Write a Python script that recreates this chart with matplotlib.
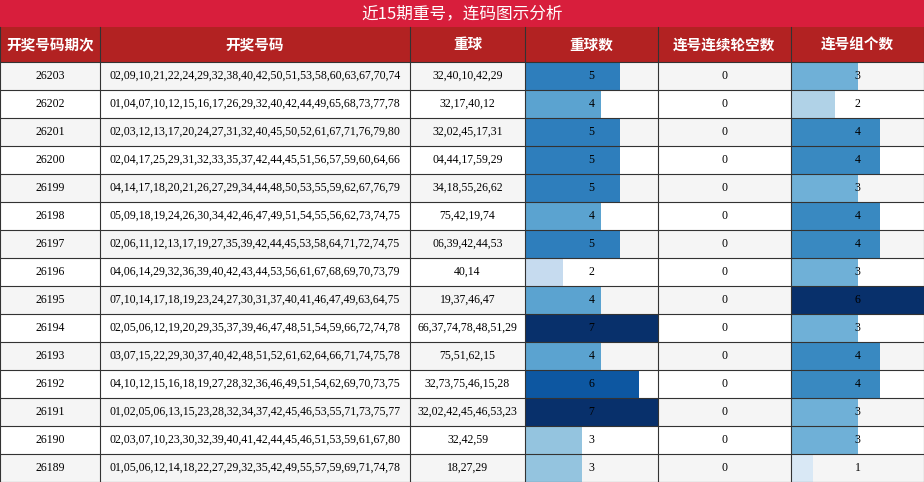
import matplotlib
matplotlib.use("Agg")
import matplotlib.pyplot as plt
from matplotlib.patches import Rectangle
from matplotlib import cm

title = "近15期重号，连码图示分析"
headers = ["开奖号码期次", "开奖号码", "重球", "重球数", "连号连续轮空数", "连号组个数"]
periods = ["26203","26202","26201","26200","26199","26198","26197","26196","26195","26194","26193","26192","26191","26190","26189"]
draws = [
"02,09,10,21,22,24,29,32,38,40,42,50,51,53,58,60,63,67,70,74",
"01,04,07,10,12,15,16,17,26,29,32,40,42,44,49,65,68,73,77,78",
"02,03,12,13,17,20,24,27,31,32,40,45,50,52,61,67,71,76,79,80",
"02,04,17,25,29,31,32,33,35,37,42,44,45,51,56,57,59,60,64,66",
"04,14,17,18,20,21,26,27,29,34,44,48,50,53,55,59,62,67,76,79",
"05,09,18,19,24,26,30,34,42,46,47,49,51,54,55,56,62,73,74,75",
"02,06,11,12,13,17,19,27,35,39,42,44,45,53,58,64,71,72,74,75",
"04,06,14,29,32,36,39,40,42,43,44,53,56,61,67,68,69,70,73,79",
"07,10,14,17,18,19,23,24,27,30,31,37,40,41,46,47,49,63,64,75",
"02,05,06,12,19,20,29,35,37,39,46,47,48,51,54,59,66,72,74,78",
"03,07,15,22,29,30,37,40,42,48,51,52,61,62,64,66,71,74,75,78",
"04,10,12,15,16,18,19,27,28,32,36,46,49,51,54,62,69,70,73,75",
"01,02,05,06,13,15,23,28,32,34,37,42,45,46,53,55,71,73,75,77",
"02,03,07,10,23,30,32,39,40,41,42,44,45,46,51,53,59,61,67,80",
"01,05,06,12,14,18,22,27,29,32,35,42,49,55,57,59,69,71,74,78",
]
repeats = ["32,40,10,42,29","32,17,40,12","32,02,45,17,31","04,44,17,59,29","34,18,55,26,62",
"75,42,19,74","06,39,42,44,53","40,14","19,37,46,47","66,37,74,78,48,51,29","75,51,62,15",
"32,73,75,46,15,28","32,02,42,45,46,53,23","32,42,59","18,27,29"]
repeat_counts = [5,4,5,5,5,4,5,2,4,7,4,6,7,3,3]
gap_counts = [0]*15
group_counts = [3,2,4,4,3,4,4,3,6,3,4,4,3,3,1]

W, H = 924, 482
fig = plt.figure(figsize=(W/100, H/100), dpi=100)
ax = fig.add_axes([0, 0, 1, 1])
ax.set_xlim(0, W); ax.set_ylim(H, 0); ax.axis("off")

cols = [0, 100, 410, 525, 658, 791, 924]
title_h, head_h = 27, 35
row_h = (H - title_h - head_h) / len(periods)
cjk = ["Noto Sans CJK SC", "DejaVu Sans"]
serif = ["Liberation Serif", "DejaVu Serif"]

ax.add_patch(Rectangle((0, 0), W, title_h, color="#d81e3c", lw=0))
ax.text(W/2, title_h/2, title, color="white", fontsize=12, ha="center", va="center", family=cjk)
ax.add_patch(Rectangle((0, title_h), W, head_h, color="#b22222", lw=0))
for i, h in enumerate(headers):
    ax.text((cols[i]+cols[i+1])/2, title_h+head_h/2, h, color="white", fontsize=10.5,
            fontweight="bold", ha="center", va="center", family=cjk)

def colr(v, vmin, vmax):
    t = (v - vmin) / (vmax - vmin)
    return cm.Blues(0.25 + 0.75*t)

for r in range(len(periods)):
    y0 = title_h + head_h + r*row_h
    bg = "#f5f5f5" if r % 2 == 0 else "white"
    ax.add_patch(Rectangle((0, y0), W, row_h, color=bg, lw=0))
    vals = [periods[r], draws[r], repeats[r]]
    for c, v in enumerate(vals):
        ax.text((cols[c]+cols[c+1])/2, y0+row_h/2, v, fontsize=8.5, ha="center", va="center", family=serif)
    # 重球数 bar
    cw = cols[4]-cols[3]
    ax.add_patch(Rectangle((cols[3], y0), cw*repeat_counts[r]/7, row_h,
                           color=colr(repeat_counts[r], 2, 7), lw=0))
    ax.text((cols[3]+cols[4])/2, y0+row_h/2, str(repeat_counts[r]), fontsize=8.5, ha="center", va="center", family=serif)
    ax.text((cols[4]+cols[5])/2, y0+row_h/2, str(gap_counts[r]), fontsize=8.5, ha="center", va="center", family=serif)
    cw = cols[6]-cols[5]
    ax.add_patch(Rectangle((cols[5], y0), cw*group_counts[r]/6, row_h,
                           color=cm.Blues(0.15 + 0.85*(group_counts[r]-1)/5), lw=0))
    ax.text((cols[5]+cols[6])/2, y0+row_h/2, str(group_counts[r]), fontsize=8.5, ha="center", va="center", family=serif)

# grid
y_top = title_h
for r in range(len(periods)+1):
    y = title_h + head_h + r*row_h
    ax.plot([0, W], [y, y], color="#333333", lw=0.8)
for x in cols:
    ax.plot([x, x], [y_top, H], color="#333333", lw=0.8)

fig.savefig("out.png", dpi=100)
